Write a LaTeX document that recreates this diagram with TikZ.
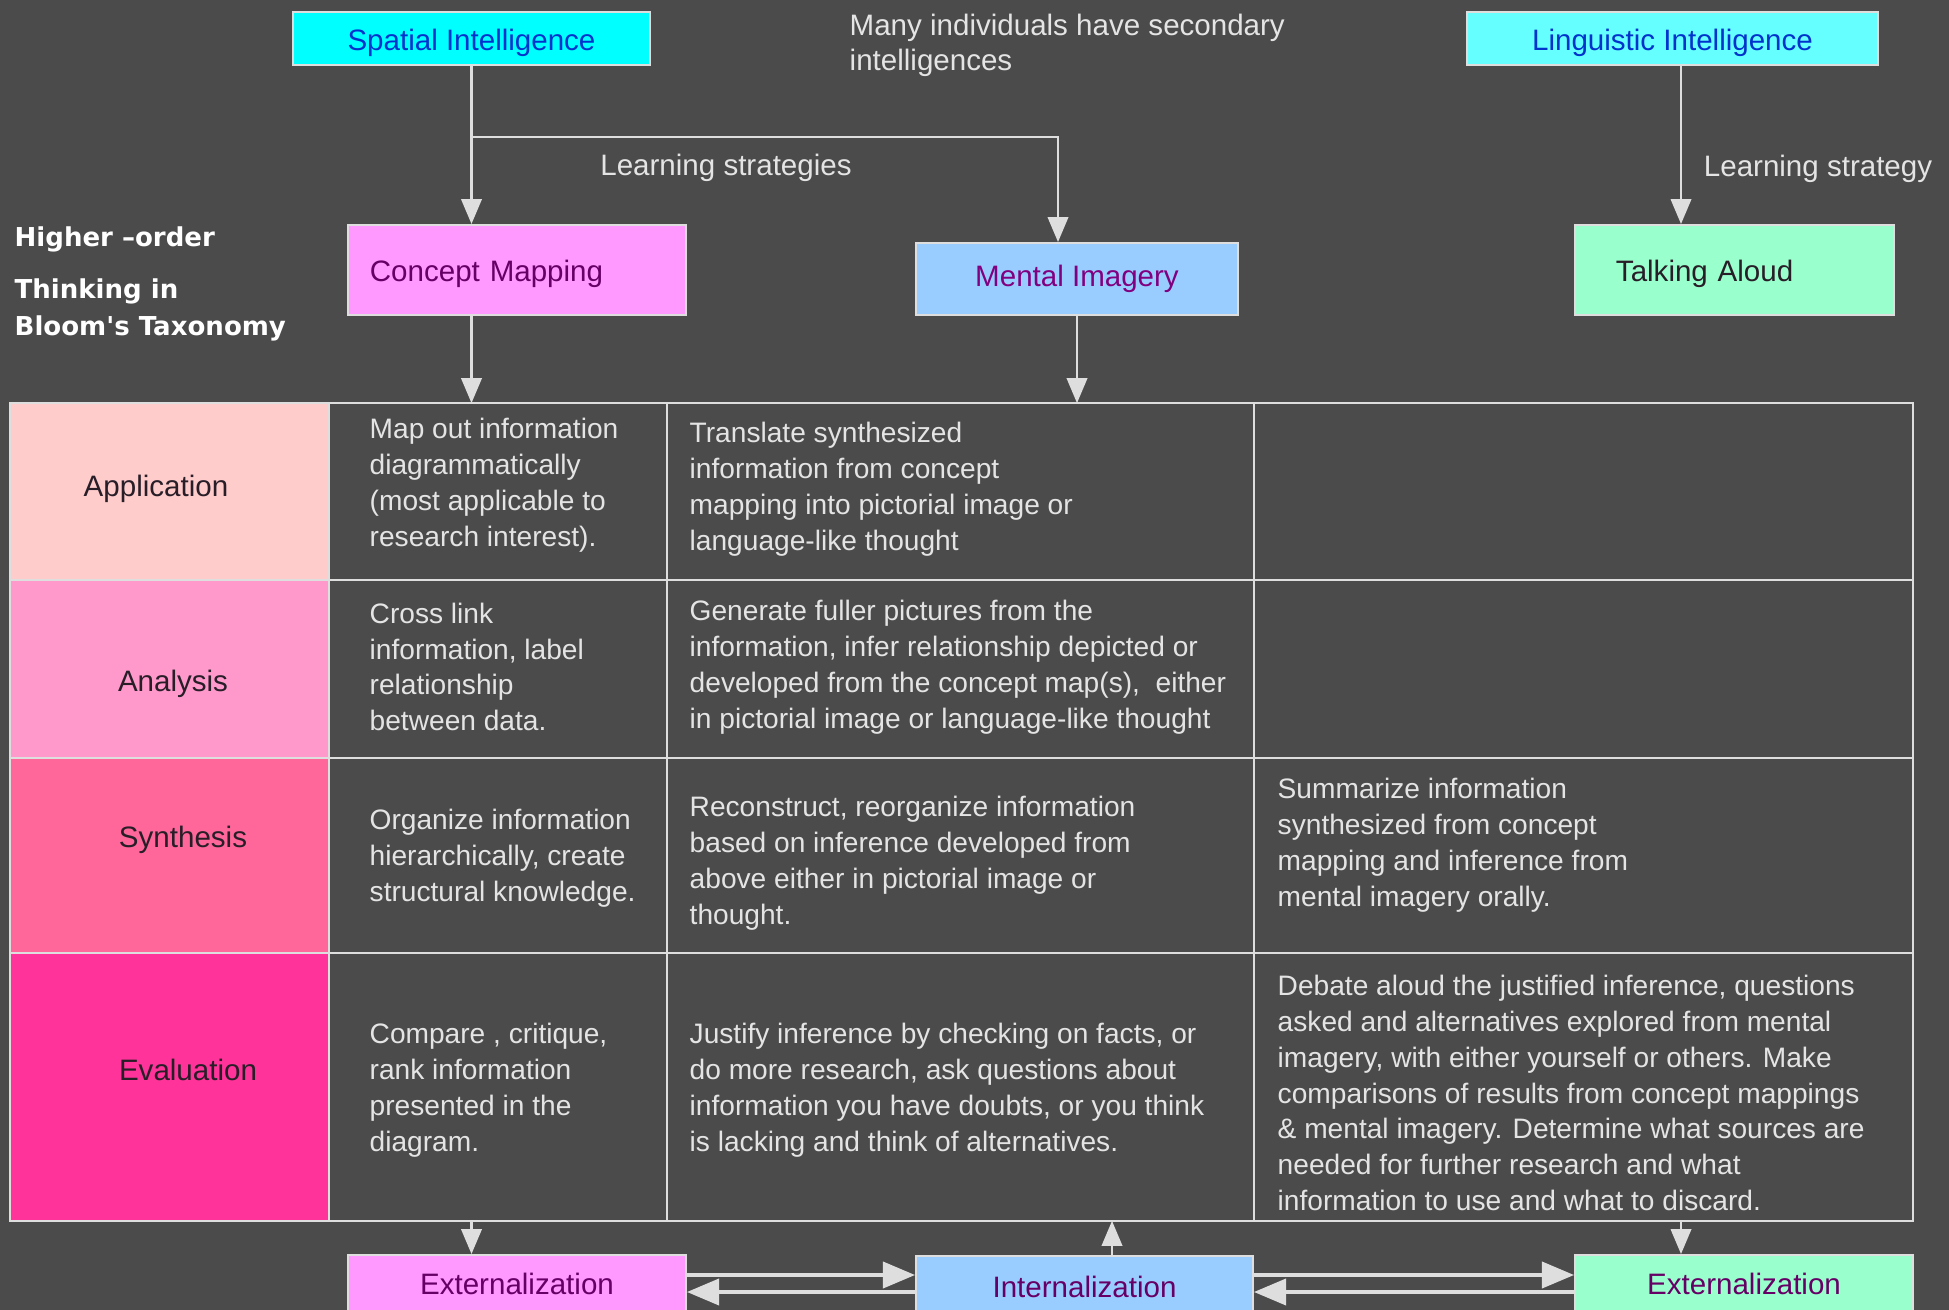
\documentclass[tikz,border=0pt]{standalone}
\usepackage{fontspec}
\setmainfont{Liberation Sans}
\newfontfamily\bloomfont{DejaVu Sans}
\usepackage{tikz}
\usetikzlibrary{arrows,positioning}

\definecolor{bgcol}{RGB}{75,75,75}
\definecolor{linecol}{RGB}{222,222,222}
\definecolor{txtcol}{RGB}{228,228,228}
\definecolor{spatcol}{RGB}{0,255,255}
\definecolor{lingcol}{RGB}{102,255,255}
\definecolor{intcol}{RGB}{0,51,204}
\definecolor{cmapcol}{RGB}{255,153,255}
\definecolor{mentcol}{RGB}{153,204,255}
\definecolor{talkcol}{RGB}{153,255,204}
\definecolor{purptext}{RGB}{102,0,102}
\definecolor{menttext}{RGB}{128,0,128}
\definecolor{darktext}{RGB}{40,30,40}
\definecolor{appcol}{RGB}{255,204,204}
\definecolor{anacol}{RGB}{255,153,204}
\definecolor{syncol}{RGB}{255,102,153}
\definecolor{evacol}{RGB}{255,51,153}

\newcommand{\labelsize}{\fontsize{8.4}{10}\selectfont}
\newcommand{\cellsize}{\fontsize{8}{10.2}\selectfont}
\newcommand{\lowered}[1]{\raisebox{-1.2pt}[\height][\depth]{#1}}

\tikzstyle{strategy}=[rectangle,draw=linecol,line width=0.6pt,inner sep=0pt,font=\labelsize]
\tikzstyle{note}=[inner sep=0pt,text=txtcol,font=\labelsize]
\tikzstyle{level}=[inner sep=0pt,text=darktext,font=\labelsize]
\tikzstyle{celltext}=[anchor=west,align=left,inner sep=0pt,text=txtcol,font=\cellsize]
\tikzstyle{bloom}=[anchor=west,align=left,inner sep=0pt,text=white,
                   font=\bloomfont\bfseries\fontsize{7.4}{10.5}\selectfont]
\tikzstyle{link}=[->,draw=linecol,line width=0.6pt]
\tikzstyle{flow}=[->,draw=linecol,line width=1.1pt]

\begin{document}
\begin{tikzpicture}[x=0.01cm,y=-0.01cm,>=triangle 45]

  \useasboundingbox (0,0) rectangle (1949,1310);
  \clip (0,0) rectangle (1949,1310);
  \fill[bgcol] (0,0) rectangle (1949,1310);

  % intelligences and strategies
  \node[strategy,fill=spatcol,text=intcol,minimum width=3.57cm,minimum height=0.53cm] (spatial) at (471.5,38.5) {\lowered{Spatial Intelligence}};
  \node[strategy,fill=lingcol,text=intcol,minimum width=4.11cm,minimum height=0.53cm] (ling) at (1672.5,38.5) {\lowered{Linguistic Intelligence}};
  \node[note,anchor=west,align=left] (secondary) at (849,45) {Many individuals have secondary\\intelligences};
  \node[strategy,fill=cmapcol,text=purptext,minimum height=0.9cm,text width=2.94cm,inner xsep=0.22cm,align=left] (concept) at (517,270) {\lowered{Concept Mapping}};
  \node[strategy,fill=mentcol,text=menttext,minimum width=3.22cm,minimum height=0.72cm] (mental) at (1077,279) {Mental Imagery};
  \node[strategy,fill=talkcol,text=darktext,minimum height=0.9cm,text width=2.37cm,inner xsep=0.41cm,align=left] (talk) at (1734.5,270) {\lowered{Talking Aloud}};
  \node[note] (strategies) at (726,168) {Learning strategies};
  \node[note] (onestrategy) at (1818,169) {Learning strategy};
  \node[bloom] (bloom) at (14,284) {Higher –order\\[4.5pt]Thinking in\\Bloom\textquotesingle s Taxonomy};

  \coordinate (branch) at (1058,137);
  \coordinate (lingx) at (1681,0);
  \coordinate (tabN) at (0,403);
  \coordinate (tabS) at (0,1221);

  \draw[link] (spatial.south) -- (spatial.south |- concept.north);
  \draw[link] (spatial.south |- branch) -- (branch) -- (branch |- mental.north);
  \draw[link] (lingx |- ling.south) -- (lingx |- talk.north);
  \draw[link] (spatial.south |- concept.south) -- (spatial.south |- tabN);
  \draw[link] (mental.south) -- (mental.south |- tabN);

  % taxonomy table
  \fill[appcol] (10,403) rectangle (329,580);
  \fill[anacol] (10,580) rectangle (329,758);
  \fill[syncol] (10,758) rectangle (329,953);
  \fill[evacol] (10,953) rectangle (329,1221);
  \draw[linecol,line width=0.6pt] (10,403) rectangle (1913,1221);
  \draw[linecol,line width=0.6pt] (10,580) -- (1913,580)
                                  (10,758) -- (1913,758)
                                  (10,953) -- (1913,953);
  \draw[linecol,line width=0.6pt] (329,403) -- (329,1221)
                                  (667,403) -- (667,1221)
                                  (1254,403) -- (1254,1221);

  \node[level] (application) at (156,489) {Application};
  \node[level] (analysis) at (173,684) {Analysis};
  \node[level] (synthesis) at (183,840) {Synthesis};
  \node[level] (evaluation) at (188,1070) {Evaluation};

  \node[celltext] (mapout) at (369,485) {Map out information\\diagrammatically\\(most applicable to\\research interest).};
  \node[celltext] (crosslink) at (369,667) {Cross link\\information, label\\relationship\\between data.};
  \node[celltext] (organize) at (369,858) {Organize information\\hierarchically, create\\structural knowledge.};
  \node[celltext] (compare) at (369,1090) {Compare , critique,\\rank information\\presented in the\\diagram.};
  \node[celltext] (translate) at (689,489) {Translate synthesized\\information from concept\\mapping into pictorial image or\\language-like thought};
  \node[celltext] (generate) at (689,667) {Generate fuller pictures from the\\information, infer relationship depicted or\\developed from the concept map(s),\ \ either\\in pictorial image or language-like thought};
  \node[celltext] (reconstruct) at (689,863) {Reconstruct, reorganize information\\based on inference developed from\\above either in pictorial image or\\thought.};
  \node[celltext] (justify) at (689,1090) {Justify inference by checking on facts, or\\do more research, ask questions about\\information you have doubts, or you think\\is lacking and think of alternatives.};
  \node[celltext] (summarize) at (1277,845) {Summarize information\\synthesized from concept\\mapping and inference from\\mental imagery orally.};
  \node[celltext] (debate) at (1277,1093) {Debate aloud the justified inference, questions\\asked and alternatives explored from mental\\imagery, with either yourself or others. Make\\comparisons of results from concept mappings\\\& mental imagery. Determine what sources are\\needed for further research and what\\information to use and what to discard.};

  % externalization / internalization
  \node[strategy,fill=cmapcol,text=purptext,minimum width=3.38cm,minimum height=0.57cm] (extL) at (517,1283.5) {Externalization};
  \node[strategy,fill=mentcol,text=purptext,minimum width=3.37cm,minimum height=0.62cm] (intz) at (1084.5,1287) {Internalization};
  \node[strategy,fill=talkcol,text=purptext,minimum width=3.38cm,minimum height=0.57cm] (extR) at (1744,1283.5) {Externalization};

  \coordinate (upx) at (1112,0);
  \coordinate (hi) at (0,1275);
  \coordinate (lo) at (0,1292);

  \draw[link] (spatial.south |- tabS) -- (spatial.south |- extL.north);
  \draw[link] (upx |- intz.north) -- (upx |- tabS);
  \draw[link] (lingx |- tabS) -- (lingx |- extR.north);
  \draw[flow] (extL.east |- hi) -- (intz.west |- hi);
  \draw[flow] (intz.west |- lo) -- (extL.east |- lo);
  \draw[flow] (intz.east |- hi) -- (extR.west |- hi);
  \draw[flow] (extR.west |- lo) -- (intz.east |- lo);
\end{tikzpicture}
\end{document}
